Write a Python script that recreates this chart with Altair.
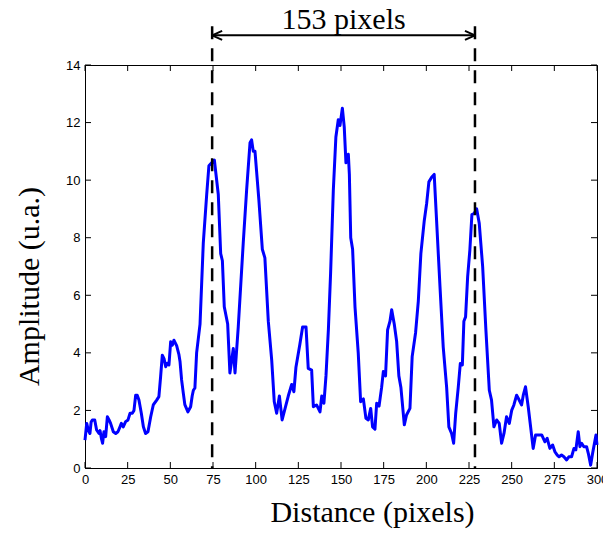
import altair as alt
import pandas as pd

# ---- data ----
dist = [0, 1.0, 2.0, 2.9, 3.6, 4.3, 5.7, 6.8, 8.2, 8.8, 9.6, 10.3, 11.1, 12.1, 13.1, 14.1, 15.0,
        16.6, 18.0, 19.3, 20.5, 21.3, 22.4, 23.8, 25.2, 26.4, 27.7, 28.7, 29.7, 30.6, 31.6, 33.0,
        34.2, 35.5, 36.9, 38.5, 40.0, 42.0, 43.3, 44.3, 45.3, 46.3, 47.3, 48.2, 49.2, 50.2, 51.2,
        52.1, 53.7, 55.0, 55.7, 56.6, 57.6, 58.5, 60.3, 61.9, 62.8, 63.5, 64.4, 65.4, 67.4, 69.3,
        71.3, 72.6, 74.2, 75.8, 78.1, 79.5, 80.5, 81.6, 83.6, 84.9, 86.9, 87.9, 89.8, 92.7, 94.7,
        96.7, 97.6, 98.6, 99.6, 101.9, 103.9, 105.4, 107.4, 109.4, 110.9, 112.3, 113.9, 115.5,
        119.1, 121.1, 122.4, 123.6, 125.9, 127.5, 129.5, 130.8, 132.8, 133.8, 135.7, 137.7, 138.7,
        140.0, 141.2, 142.6, 143.9, 145.5, 147.0, 148.4, 149.4, 150.8, 151.9, 152.9, 154.3, 154.9,
        155.7, 156.8, 158.2, 160.1, 161.5, 163.1, 164.6, 166.0, 167.4, 168.5, 169.9, 170.9, 172.3,
        173.8, 174.8, 176.1, 177.3, 178.7, 179.7, 181.2, 182.6, 183.9, 185.1, 187.1, 188.4, 190.4,
        191.7, 193.7, 195.3, 196.8, 198.8, 200.2, 201.5, 203.1, 204.6, 206.0, 208.0, 209.9, 211.9,
        213.2, 214.8, 216.0, 217.2, 218.7, 219.9, 221.1, 222.0, 223.0, 224.2, 225.5, 226.7, 228.0,
        229.5, 231.0, 233.0, 234.9, 236.9, 238.2, 239.6, 241.2, 242.7, 244.1, 245.5, 247.0, 248.6,
        250.0, 251.3, 252.9, 254.4, 255.8, 256.8, 258.1, 259.7, 261.1, 262.6, 264.0, 265.6, 267.6,
        269.5, 270.8, 272.4, 274.0, 275.3, 276.7, 277.8, 279.2, 280.6, 282.2, 283.5, 285.1, 286.5,
        287.6, 289.0, 290.0, 291.0, 292.3, 293.9, 294.9, 296.3, 297.4, 299.4, 300.0]
amp = [0.97, 1.55, 1.3, 1.2, 1.6, 1.67, 1.67, 1.32, 1.2, 1.3, 1.03, 0.86, 1.26, 1.09, 1.78, 1.67, 1.55,
       1.26, 1.2, 1.26, 1.43, 1.55, 1.43, 1.61, 1.67, 1.9, 1.9, 2.0, 2.53, 2.53, 2.36, 1.9,
       1.43, 1.2, 1.26, 1.78, 2.19, 2.36, 2.48, 3.17, 3.92, 3.8, 3.52, 3.64, 3.58, 4.39, 4.27,
       4.44, 4.25, 3.95, 3.69, 3.06, 2.6, 2.2, 1.95, 2.13, 2.5, 2.7, 2.78, 4.0, 5.0, 7.8,
       9.5, 10.5, 10.6, 10.7, 9.5, 7.45, 7.2, 5.6, 5.0, 3.3, 4.15, 3.3, 4.9, 7.8, 9.65,
       11.3, 11.4, 11.0, 11.0, 9.3, 7.6, 7.3, 5.1, 3.75, 2.3, 1.9, 2.5, 1.67,
       2.5, 2.9, 2.65, 3.5, 4.3, 4.9, 4.9, 3.46, 3.4, 2.13, 2.19, 1.95, 2.5,
       2.25, 3.2, 4.8, 6.76, 9.65, 11.5, 12.1, 11.9, 12.5, 11.85, 10.6, 10.9, 10.2,
       8.0, 7.6, 5.6, 4.0, 2.3, 2.4, 1.73, 1.67, 2.07, 1.43, 1.35, 2.25, 2.15,
       2.8, 3.35, 3.2, 4.8, 5.1, 5.5, 5.0, 4.4, 3.2, 2.8, 1.5, 1.84, 2.07,
       3.87, 4.7, 5.8, 7.45, 8.6, 9.2, 9.94, 10.1, 10.2, 8.6, 6.3, 4.2, 2.8,
       1.43, 1.2, 0.86, 1.9, 2.8, 3.63, 3.58, 5.1, 5.25, 6.64, 7.57, 8.8, 8.84,
       9.0, 8.5, 7.0, 4.8, 2.7, 2.36, 1.43, 1.67, 1.55, 0.86, 1.2, 1.78, 1.55,
       2.0, 2.19, 2.53, 2.36, 2.19, 2.53, 2.82, 2.13, 1.43, 0.68, 1.15, 1.15, 1.15,
       0.91, 1.03, 0.68, 0.8, 0.57, 0.45, 0.39, 0.45, 0.39, 0.28, 0.39, 0.39, 0.68,
       0.63, 1.26, 0.74, 0.86, 0.74, 0.74, 0.51, 0.1, 0.5, 1.15, 0.8]

x_ticks = [0, 25, 50, 75, 100, 125, 150, 175, 200, 225, 250, 275, 300]
y_ticks = [0, 2, 4, 6, 8, 10, 12, 14]

marker_x = [74.5, 228.5]      # dashed lines
marker_top = 15.35            # top of the dashed lines
arrow_y = 15.03               # height of the double arrow
label_text = "153 pixels"

W, H = 512, 403

xs = alt.Scale(domain=[0, 300], nice=False, zero=False)
ys = alt.Scale(domain=[0, 14], nice=False, zero=False)

df = pd.DataFrame({"d": dist, "a": amp})
df_mark = pd.DataFrame({"x": marker_x, "top": [marker_top] * 2, "bot": [0, 0]})
df_arrow = pd.DataFrame({"x": [marker_x[0]], "x2": [marker_x[1]], "y": [arrow_y]})
df_heads = pd.DataFrame({"x": marker_x, "y": [arrow_y] * 2, "side": ["left", "right"]})
df_label = pd.DataFrame({"x": [(marker_x[0] + marker_x[1]) / 2], "y": [arrow_y], "t": [label_text]})
df_xt = pd.DataFrame({"t": x_ticks})
df_yt = pd.DataFrame({"t": y_ticks})

serif = "Liberation Serif"
sans = "Liberation Sans"

line = alt.Chart(df).mark_line(color="#0000ff", strokeWidth=3, strokeJoin="round").encode(
    x=alt.X("d:Q", scale=xs, axis=alt.Axis(
        values=x_ticks, ticks=False, grid=False, labelPadding=5,
        labelFont=sans, labelFontSize=13, labelColor="black",
        domainColor="black", labelFlush=False,
        title="Distance (pixels)", titleFont=serif, titleFontSize=30,
        titleFontWeight="normal", titleColor="black",
        titleX=287, titleY=44, titleBaseline="middle", titleAlign="center")),
    y=alt.Y("a:Q", scale=ys, axis=alt.Axis(
        values=y_ticks, ticks=False, grid=False, labelPadding=5,
        labelFont=sans, labelFontSize=13, labelColor="black",
        domainColor="black", labelFlush=False,
        title="Amplitude (u.a.)", titleFont=serif, titleFontSize=30,
        titleFontWeight="normal", titleColor="black",
        titleX=-56, titleY=221, titleAngle=270, titleBaseline="middle",
        titleAlign="center")),
)

dashed = alt.Chart(df_mark).mark_rule(color="black", strokeWidth=2.5, strokeDash=[13, 9]).encode(
    x=alt.X("x:Q", scale=xs), y=alt.Y("top:Q", scale=ys), y2="bot:Q")

arrow = alt.Chart(df_arrow).mark_rule(color="black", strokeWidth=2).encode(
    x=alt.X("x:Q", scale=xs), x2="x2:Q", y=alt.Y("y:Q", scale=ys))

head_l = alt.Chart(df_heads[df_heads.side == "left"]).mark_point(
    shape="M 0 0 L 2 -0.9 M 0 0 L 2 0.9", size=100, filled=False,
    color="black", strokeWidth=2, opacity=1).encode(
    x=alt.X("x:Q", scale=xs), y=alt.Y("y:Q", scale=ys))
head_r = alt.Chart(df_heads[df_heads.side == "right"]).mark_point(
    shape="M 0 0 L -2 -0.9 M 0 0 L -2 0.9", size=100, filled=False,
    color="black", strokeWidth=2, opacity=1).encode(
    x=alt.X("x:Q", scale=xs), y=alt.Y("y:Q", scale=ys))

label = alt.Chart(df_label).mark_text(font=serif, fontSize=30, baseline="alphabetic",
                                      align="center", dy=-6, color="black").encode(
    x=alt.X("x:Q", scale=xs), y=alt.Y("y:Q", scale=ys), text="t:N")

tick_style = dict(color="black", strokeWidth=1)
xt_bot = alt.Chart(df_xt).mark_rule(**tick_style).encode(
    x=alt.X("t:Q", scale=xs), y=alt.value(H), y2=alt.value(H - 6))
xt_top = alt.Chart(df_xt).mark_rule(**tick_style).encode(
    x=alt.X("t:Q", scale=xs), y=alt.value(0), y2=alt.value(6))
yt_left = alt.Chart(df_yt).mark_rule(**tick_style).encode(
    y=alt.Y("t:Q", scale=ys), x=alt.value(0), x2=alt.value(6))
yt_right = alt.Chart(df_yt).mark_rule(**tick_style).encode(
    y=alt.Y("t:Q", scale=ys), x=alt.value(W), x2=alt.value(W - 6))

chart = alt.layer(
    xt_bot, xt_top, yt_left, yt_right, line, dashed, arrow, head_l, head_r, label
).properties(
    width=W, height=H,
    autosize=alt.AutoSizeParams(type="none"),
    padding={"left": 77, "top": 57, "right": 6, "bottom": 62},
    background="white",
).configure_view(stroke="black", strokeWidth=1)

chart.save("out.html", embed_options={"renderer": "svg", "actions": False})
